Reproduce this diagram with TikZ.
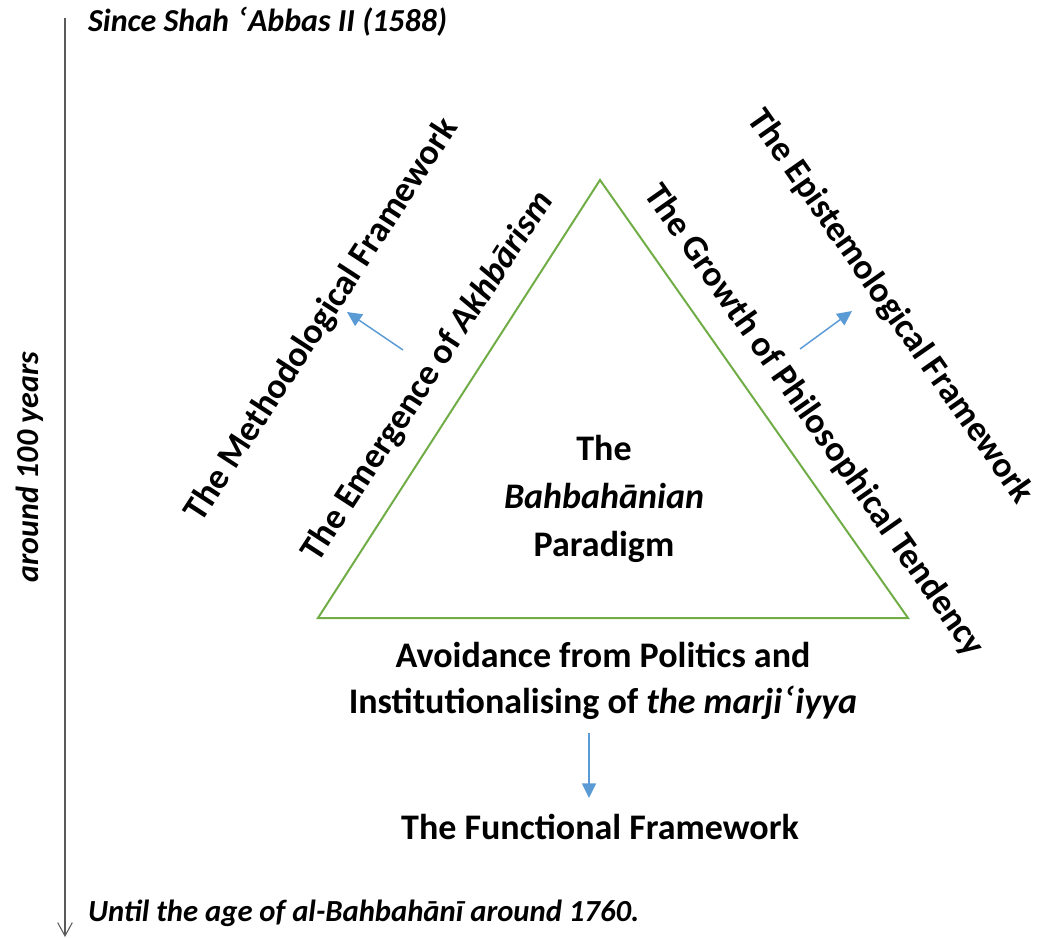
\documentclass[tikz,border=0pt]{standalone}
\usepackage{fontspec}
\setmainfont{Carlito}
\newfontfamily\dvsans{DejaVu Sans}
\usetikzlibrary{arrows.meta}
\definecolor{triline}{RGB}{112,173,71}
\definecolor{flowblue}{RGB}{91,155,213}
\definecolor{timeline}{RGB}{90,90,90}
% left half ring (ʿayn transliteration)
\newcommand{\ayn}{{\dvsans ʿ}}
\begin{document}
\begin{tikzpicture}[x=0.75pt,y=-0.75pt,
  every node/.style={inner sep=0pt, outer sep=0pt},
  era/.style={font=\fontsize{24}{28}\selectfont\bfseries\itshape, anchor=west},
  side/.style={font=\fontsize{26.8}{30}\selectfont\bfseries},
  core/.style={font=\fontsize{27}{36}\selectfont\bfseries, align=center},
  flow/.style={draw=flowblue, line width=1.1pt, -{Triangle[length=11pt,width=10.5pt]}},
  tri/.style={draw=triline, line width=1.5pt, line join=miter},
  time/.style={draw=timeline, line width=0.8pt, -{Straight Barb[length=10pt,width=11pt]}}
]
\useasboundingbox (0,0) rectangle (1038,938);

% time axis
\coordinate (tstart) at (65,18);
\coordinate (tend) at (65,937);
\draw[time] (tstart) -- (tend);
\node[era] (since) at (88,22) {Since Shah \ayn Abbas II (1588)};
\node[era, font=\fontsize{23}{28}\selectfont\bfseries\itshape] (until) at (88,913)
  {Until the age of al-Bahbahānī around 1760.};
\node[era, anchor=center, rotate=90] (span) at (30,467) {around 100 years};

% the triangle
\coordinate (apex) at (600,180);
\coordinate (bl) at (318,618);
\coordinate (br) at (908,618);
\draw[tri] (apex) -- (bl) -- (br) -- cycle;

% centre
\node[core] (para) at (604,499) {The\\{\itshape Bahbahānian}\\Paradigm};

% sides of the triangle
\node[side, rotate=57] (akh) at (428,377) {The Emergence of \textit{Akhbārism}};
\node[side, rotate=-55] (phil) at (814,421) {The Growth of Philosophical Tendency};
\node[side, rotate=57] (meth) at (322,320) {The Methodological Framework};
\node[side, rotate=-55] (epis) at (890,307) {The Epistemological Framework};

% base
\node[core, font=\fontsize{27}{35}\selectfont\bfseries] (avoid) at (603,681)
  {Avoidance from Politics and\\Institutionalising of {\itshape the marji\ayn iyya}};
\node[core] (func) at (600,827) {The Functional Framework};

% arrows from each side to its framework
\coordinate (mtail) at (403,350);
\coordinate (mhead) at (347,312);
\coordinate (etail) at (800,349);
\coordinate (ehead) at (852,311);
\coordinate (ftail) at (589,733);
\coordinate (fhead) at (589,798);
\draw[flow] (mtail) -- (mhead);
\draw[flow] (etail) -- (ehead);
\draw[flow] (ftail) -- (fhead);
\end{tikzpicture}
\end{document}
